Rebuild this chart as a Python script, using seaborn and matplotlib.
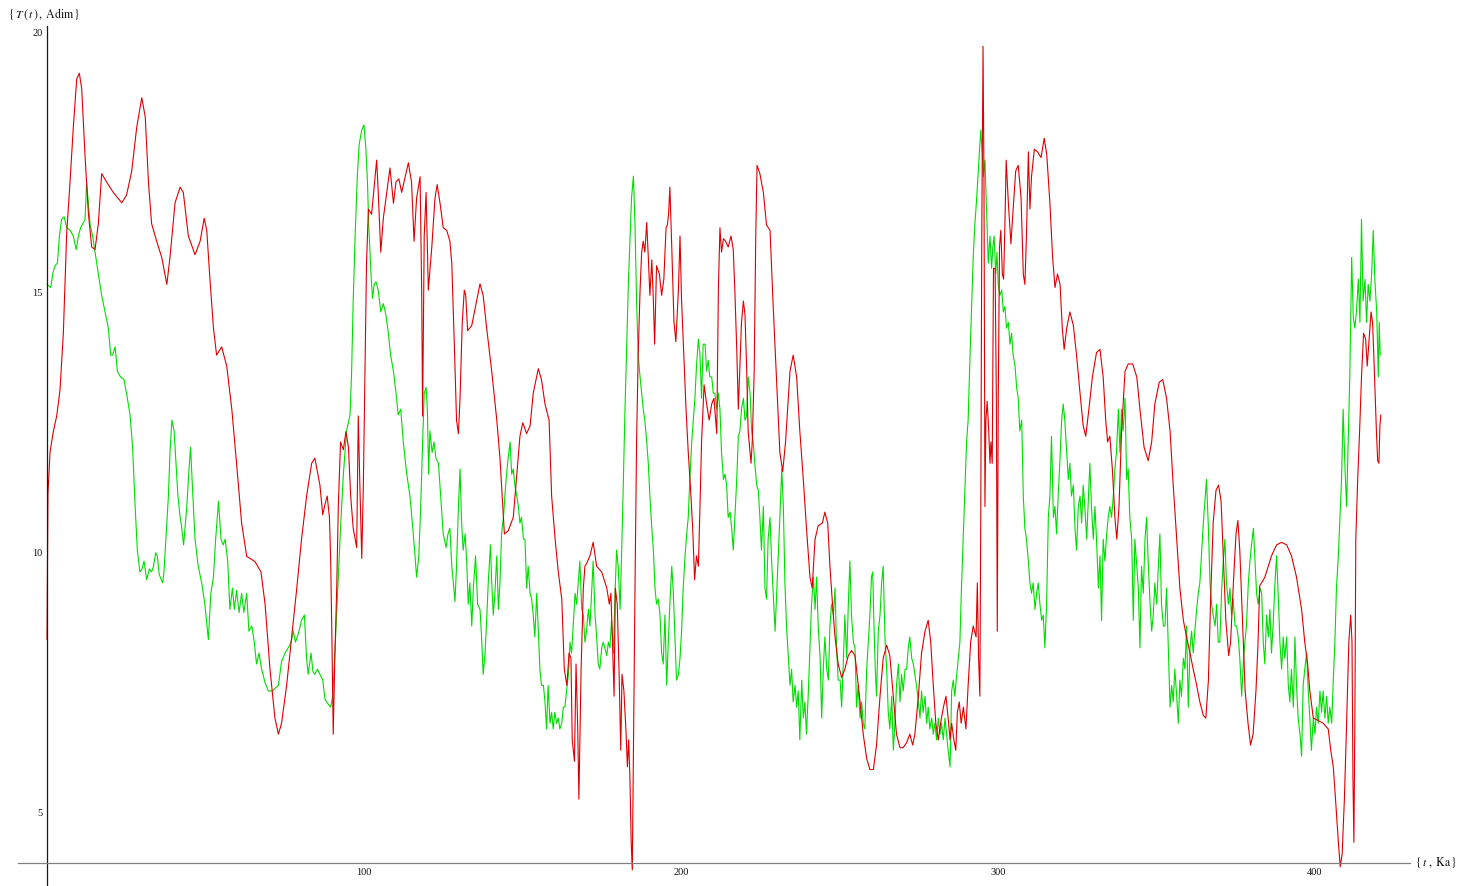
import matplotlib
matplotlib.use("Agg")
import matplotlib.pyplot as plt
from matplotlib.ticker import FixedLocator
import pandas as pd
import seaborn as sns

# ---------------------------------------------------------------
# T(t) (adimensional) versus time t (ka); (t, T) pairs by segment
# ---------------------------------------------------------------
red_0_42 = [
    (0, 8.3), (0.3, 11.1), (0.95, 11.9), (2.0, 12.3), (3.06, 12.6), (4.1, 13.1),
    (5.16, 14.2), (6.2, 16.1), (7.26, 17.1), (8.3, 18.15), (9.37, 19.08), (10.2, 19.19),
    (10.94, 18.9), (12.0, 17.6), (13.05, 16.5), (14.1, 15.85), (15.15, 15.8), (16.2, 16.3),
    (17.25, 17.26), (18.8, 17.1), (20.9, 16.9), (23.6, 16.7), (25.1, 16.85), (26.7, 17.3),
    (28.3, 18.15), (29.9, 18.72), (31.0, 18.35), (32.0, 17.1), (33.0, 16.3), (34.6, 15.96),
    (36.2, 15.65), (37.8, 15.13), (38.8, 15.65), (40.4, 16.7), (42.0, 17.0),
]
red_43_85 = [
    (43.0, 16.9), (44.6, 16.06), (46.7, 15.7), (48.3, 15.96), (49.6, 16.4), (50.4, 16.17),
    (51.4, 15.23), (52.5, 14.3), (53.5, 13.77), (55.1, 13.93), (56.7, 13.56), (58.3, 12.73),
    (59.8, 11.69), (61.4, 10.54), (63.0, 9.9), (65.6, 9.8), (67.5, 9.6), (68.8, 8.98),
    (70.35, 7.73), (71.9, 6.79), (73.0, 6.48), (74.0, 6.69), (75.6, 7.42), (77.2, 8.35),
    (78.8, 9.29), (80.3, 10.23), (81.9, 11.06), (83.5, 11.69), (84.5, 11.79),
]
red_86_127 = [
    (86.1, 11.27), (87.0, 10.7), (87.7, 10.9), (88.4, 11.06), (89.1, 10.65), (89.5, 9.81),
    (89.9, 8.25), (90.3, 6.48), (90.8, 7.94), (91.4, 9.29), (91.9, 10.86), (92.6, 12.1),
    (93.5, 11.95), (94.3, 12.3), (95.1, 12.0), (95.8, 11.06), (96.6, 10.44), (97.7, 10.07),
    (98.2, 12.6), (98.7, 11.27), (99.3, 9.86), (99.8, 11.27), (100.3, 13.46), (100.8, 15.54),
    (101.4, 16.58), (102.4, 16.48), (103.5, 17.2), (104.0, 17.52), (104.5, 16.9), (105.3, 15.75),
    (106.1, 16.4), (107.2, 16.9), (108.2, 17.37), (109.3, 16.69), (110.1, 17.1), (111.0, 17.16),
    (111.9, 16.9), (113.0, 17.2), (114.0, 17.47), (115.0, 17.1), (115.8, 15.96), (116.6, 16.79),
    (117.7, 17.2), (118.2, 15.02), (118.5, 12.6), (119.0, 16.06), (119.6, 16.9), (120.3, 15.02),
    (121.4, 15.85), (122.4, 16.79), (123.1, 17.05), (124.0, 16.69), (125.0, 16.22), (126.1, 16.17),
    (127.1, 15.96),
]
red_128_170 = [
    (127.7, 15.54), (128.5, 13.98), (129.2, 12.52), (129.8, 12.26), (130.3, 12.94), (131.0, 14.4),
    (131.65, 15.02), (132.1, 14.92), (132.7, 14.24), (134.0, 14.34), (135.2, 14.71), (136.6, 15.14),
    (137.6, 14.92), (138.7, 14.29), (140.3, 13.46), (141.9, 12.52), (142.9, 11.79), (143.6, 11.06),
    (144.3, 10.33), (145.5, 10.39), (147.1, 10.65), (148.2, 11.48), (149.2, 12.21), (150.1, 12.47),
    (151.3, 12.26), (152.4, 12.41), (153.4, 13.04), (155.0, 13.51), (156.0, 13.3), (157.1, 12.83),
    (158.4, 12.52), (159.2, 11.06), (160.3, 10.23), (161.3, 9.6), (162.4, 9.08), (163.2, 7.73),
    (164.0, 7.42), (164.7, 8.04), (165.3, 7.94), (165.7, 6.37), (166.4, 5.96), (166.9, 7.83),
    (167.4, 6.69), (167.8, 5.23), (168.5, 7.73), (169.2, 9.29), (169.7, 9.71),
]
red_170_211 = [
    (170.2, 9.76), (171.3, 9.91), (172.3, 10.17), (173.4, 9.71), (175.0, 9.6), (176.6, 9.29),
    (177.4, 8.98), (177.9, 9.19), (178.4, 8.25), (178.9, 7.21), (179.3, 9.29), (179.9, 8.98),
    (180.5, 7.63), (181.0, 6.17), (181.4, 7.63), (182.0, 7.31), (182.7, 6.48), (183.1, 5.85),
    (183.5, 6.37), (183.9, 5.64), (184.3, 4.4), (184.65, 3.87), (185.0, 6.17), (185.5, 9.29),
    (186.0, 12.1), (186.5, 13.77), (187.1, 15.02), (187.6, 15.75), (188.1, 15.96), (188.6, 15.75),
    (189.2, 16.32), (189.7, 15.65), (190.2, 14.92), (190.8, 15.6), (191.3, 14.81), (191.7, 13.98),
    (192.3, 15.49), (193.2, 15.33), (193.9, 14.92), (194.6, 15.23), (195.3, 16.22), (195.7, 16.27),
    (196.1, 16.48), (196.5, 17.0), (197.1, 15.85), (197.8, 14.4), (198.4, 14.03), (199.2, 15.02),
    (199.7, 16.06), (200.2, 14.81), (200.9, 13.77), (201.6, 12.73), (202.3, 11.9), (203.05, 11.17),
    (203.7, 10.44), (204.3, 9.45), (204.9, 9.91), (205.5, 9.71), (206.0, 10.86), (206.5, 12.1),
    (207.3, 13.2), (208.1, 12.83), (208.9, 12.52), (209.7, 12.83), (210.4, 12.94), (211.3, 12.26),
]
red_212_255 = [
    (211.8, 15.02), (212.3, 16.22), (212.8, 15.75), (213.4, 16.01), (214.1, 15.96), (214.9, 15.85),
    (215.8, 16.06), (216.5, 15.8), (217.0, 15.02), (217.6, 13.88), (218.1, 12.73), (218.6, 13.56),
    (219.1, 14.4), (219.7, 14.81), (220.2, 14.55), (220.7, 13.56), (221.2, 12.31), (222.1, 11.69),
    (222.5, 12.1), (223.1, 13.46), (223.6, 16.06), (224.0, 17.42), (224.9, 17.26), (226.0, 16.9),
    (227.0, 16.27), (228.1, 16.17), (229.1, 14.71), (230.2, 13.25), (231.2, 11.9), (232.1, 11.53),
    (233.0, 12.1), (234.4, 13.46), (235.4, 13.77), (236.5, 13.35), (237.5, 12.31), (238.6, 11.38),
    (239.6, 10.44), (240.7, 9.5), (241.4, 9.29), (242.3, 10.23), (243.3, 10.49), (244.6, 10.54),
    (245.4, 10.75), (246.3, 10.54), (247.0, 9.71), (247.7, 9.08), (248.6, 8.35), (249.6, 7.83),
    (250.7, 7.57), (251.7, 7.73), (252.8, 7.99), (253.8, 8.09), (254.9, 7.99),
]
red_255_298 = [
    (255.4, 7.73), (256.5, 7.1), (257.5, 6.48), (258.6, 6.01), (259.6, 5.8), (260.7, 5.8),
    (261.7, 6.27), (262.8, 7.21), (263.8, 7.94), (264.9, 8.19), (265.9, 7.99), (267.0, 7.21),
    (268.0, 6.48), (269.1, 6.22), (270.1, 6.22), (271.2, 6.32), (272.2, 6.48), (273.1, 6.27),
    (273.8, 6.48), (274.9, 7.21), (275.9, 8.04), (277.0, 8.46), (278.0, 8.67), (278.8, 8.25),
    (279.6, 7.42), (280.4, 6.69), (281.2, 6.37), (281.9, 6.69), (282.8, 7.0), (283.6, 7.21),
    (284.3, 6.79), (284.9, 6.37), (285.4, 6.69), (286.1, 6.37), (286.7, 6.17), (287.2, 6.9),
    (287.8, 7.1), (288.4, 6.69), (289.1, 7.0), (289.9, 6.58), (290.6, 7.42), (291.4, 8.25),
    (292.2, 8.56), (293.1, 8.35), (293.5, 9.39), (293.9, 7.94), (294.3, 7.21), (294.6, 10.86),
    (294.9, 16.06), (295.3, 19.71), (295.6, 17.1), (295.9, 10.86), (296.2, 12.52), (296.6, 12.88),
    (297.1, 12.31), (297.5, 11.69),
]
red_298_340 = [
    (297.8, 12.1), (298.2, 11.69), (298.6, 15.44), (299.1, 15.44), (299.5, 12.94), (299.8, 8.46),
    (300.1, 12.94), (300.5, 15.85), (300.9, 16.17), (301.4, 15.33), (301.8, 15.23), (302.2, 16.27),
    (302.6, 17.52), (303.3, 16.69), (304.1, 15.91), (304.8, 16.58), (305.6, 17.31), (306.4, 17.42),
    (307.3, 16.79), (308.0, 15.33), (308.5, 15.13), (309.0, 16.06), (309.6, 17.68), (310.1, 16.58),
    (310.6, 17.21), (311.5, 17.73), (312.5, 17.68), (313.6, 17.57), (314.6, 17.94), (315.4, 17.63),
    (316.4, 16.69), (317.25, 15.65), (318.0, 15.07), (318.8, 15.33), (319.6, 15.13), (320.3, 14.29),
    (320.9, 13.88), (321.7, 14.29), (322.7, 14.6), (323.8, 14.34), (324.8, 13.77), (325.9, 13.04),
    (326.9, 12.41), (327.7, 12.21), (328.7, 12.73), (329.8, 13.35), (331.1, 13.82), (332.2, 13.88),
    (333.2, 13.35), (334.0, 12.52), (334.6, 12.1), (335.3, 12.21), (336.1, 11.58), (336.9, 10.65),
    (337.5, 10.23), (338.2, 10.86), (339.0, 12.31), (340.1, 13.46),
]
red_341_382 = [
    (341.1, 13.6), (342.5, 13.6), (343.8, 13.35), (344.8, 12.73), (346.1, 12.0), (347.4, 11.74),
    (348.5, 12.1), (349.5, 12.83), (350.9, 13.25), (352.0, 13.3), (353.2, 12.94), (354.3, 12.31),
    (355.3, 11.27), (356.4, 10.23), (357.4, 9.29), (358.5, 8.67), (359.5, 8.35), (360.6, 8.04),
    (361.6, 7.73), (362.7, 7.42), (363.7, 7.1), (364.8, 6.84), (365.6, 6.79), (366.4, 7.52),
    (367.1, 9.08), (367.9, 10.54), (368.8, 11.17), (369.6, 11.27), (370.4, 10.96), (371.1, 9.91),
    (371.9, 8.67), (372.8, 7.99), (373.4, 8.25), (374.2, 9.29), (375.1, 10.33), (375.7, 10.59),
    (376.3, 10.02), (377.2, 8.56), (378.0, 7.31), (378.9, 6.69), (379.7, 6.27), (380.5, 6.48),
    (381.4, 7.31), (382.0, 8.14),
]
red_383_421 = [
    (382.6, 9.34), (383.2, 9.39), (384.2, 9.5), (385.3, 9.71), (386.3, 9.91), (387.9, 10.12),
    (389.5, 10.17), (391.1, 10.12), (392.6, 9.91), (394.2, 9.5), (395.8, 8.88), (396.8, 8.25),
    (397.7, 7.83), (398.4, 7.31), (399.5, 6.79), (401.1, 6.74), (402.6, 6.69), (404.2, 6.58),
    (405.0, 6.17), (405.8, 5.85), (406.5, 5.23), (407.4, 4.4), (408.0, 3.93), (408.6, 4.18),
    (409.3, 5.23), (410.0, 6.69), (410.7, 8.25), (411.3, 8.77), (411.7, 8.25), (412.0, 5.64),
    (412.3, 4.4), (412.6, 6.69), (412.9, 10.23), (413.5, 11.38), (414.1, 12.31), (414.7, 13.35),
    (415.35, 14.19), (416.0, 14.08), (416.5, 13.56), (417.0, 13.98), (417.7, 14.6), (418.2, 14.4),
    (418.7, 13.56), (419.4, 12.31), (419.8, 11.74), (420.2, 11.69), (420.5, 12.41), (420.8, 12.62),
]

green_0_42 = [
    (0, 15.13), (1.2, 15.07), (1.8, 15.33), (2.5, 15.49), (3.3, 15.54), (3.9, 16.06),
    (4.6, 16.38), (5.4, 16.43), (6.2, 16.22), (7.3, 16.17), (8.3, 16.06), (9.2, 15.8),
    (9.9, 16.06), (10.6, 16.22), (11.5, 16.32), (12.0, 16.38), (12.5, 17.1), (13.05, 16.69),
    (13.6, 16.27), (14.4, 16.06), (15.15, 15.75), (16.2, 15.33), (17.25, 14.92), (18.3, 14.6),
    (19.35, 14.29), (20.1, 13.77), (20.7, 13.77), (21.5, 13.93), (22.2, 13.46), (23.2, 13.35),
    (24.3, 13.3), (25.35, 12.94), (26.2, 12.62), (27.0, 12.0), (27.8, 10.86), (28.5, 10.02),
    (29.3, 9.6), (30.0, 9.66), (30.6, 9.81), (31.45, 9.45), (32.3, 9.66), (33.0, 9.6),
    (33.55, 9.7), (34.3, 9.97), (34.8, 9.91), (35.4, 9.55), (36.5, 9.39), (36.9, 9.6),
    (37.5, 10.23), (38.3, 11.06), (38.8, 11.9), (39.4, 12.52), (40.1, 12.31), (40.7, 11.69),
    (41.3, 11.06), (42.0, 10.65),
]
green_42_85 = [
    (42.3, 10.54), (43.1, 10.12), (44.1, 10.86), (44.8, 11.58), (45.3, 12.0), (45.85, 11.27),
    (46.7, 10.23), (47.7, 9.71), (48.8, 9.39), (49.8, 8.98), (50.9, 8.3), (51.7, 9.19),
    (52.5, 9.5), (53.2, 10.23), (54.1, 10.96), (54.9, 10.23), (55.6, 10.12), (56.2, 10.23),
    (57.0, 9.81), (57.7, 8.88), (58.5, 9.29), (59.1, 8.88), (59.8, 9.24), (60.6, 8.82),
    (61.4, 9.19), (62.1, 8.82), (63.0, 9.19), (63.7, 8.46), (64.6, 8.56), (65.4, 8.25),
    (66.1, 7.83), (66.9, 8.04), (67.7, 7.73), (68.8, 7.47), (69.8, 7.31), (71.1, 7.31),
    (71.9, 7.36), (73.0, 7.42), (74.0, 7.88), (75.1, 8.04), (76.1, 8.14), (77.0, 8.25),
    (77.7, 8.46), (78.4, 8.25), (79.5, 8.46), (80.3, 8.67), (81.2, 8.77), (81.9, 7.94),
    (82.4, 7.63), (83.3, 8.04), (83.9, 7.68), (84.5, 7.63),
]
green_85_127 = [
    (85.3, 7.73), (86.1, 7.63), (87.0, 7.52), (87.7, 7.15), (88.8, 7.05), (89.5, 7.0),
    (90.1, 7.21), (90.5, 7.63), (91.2, 8.56), (91.9, 9.5), (92.6, 10.44), (93.5, 11.48),
    (94.5, 12.31), (95.6, 12.62), (96.1, 13.46), (96.6, 14.81), (97.2, 16.06), (97.9, 17.21),
    (98.5, 17.83), (99.3, 18.1), (100.0, 18.2), (100.6, 17.73), (101.1, 17.1), (101.5, 16.27),
    (101.9, 15.75), (102.3, 15.23), (102.7, 14.86), (103.2, 15.13), (103.8, 15.18), (104.5, 15.02),
    (105.3, 14.6), (106.1, 14.76), (106.9, 14.55), (107.7, 14.19), (108.4, 13.77), (109.3, 13.46),
    (110.1, 13.04), (110.8, 12.62), (111.6, 12.73), (112.4, 12.1), (113.5, 11.48), (114.5, 11.06),
    (115.4, 10.44), (116.1, 9.91), (116.6, 9.5), (117.3, 9.91), (117.9, 10.86), (118.5, 12.1),
    (119.0, 13.04), (119.6, 13.15), (120.0, 12.73), (120.4, 11.48), (120.8, 12.31), (121.5, 11.9),
    (122.1, 12.1), (122.7, 11.79), (123.5, 11.69), (124.2, 11.06), (125.0, 10.33), (125.9, 10.07),
    (126.5, 10.33), (127.1, 10.44),
]
green_128_170 = [
    (127.7, 9.71), (128.2, 9.39), (128.7, 9.03), (129.2, 9.71), (129.8, 10.86), (130.3, 11.58),
    (130.8, 10.54), (131.3, 10.02), (131.9, 10.33), (132.4, 9.81), (132.9, 8.98), (133.4, 9.39),
    (134.0, 8.56), (134.5, 9.29), (135.2, 9.91), (135.85, 8.98), (136.6, 8.88), (137.1, 8.35),
    (137.6, 7.63), (138.2, 8.04), (138.7, 8.67), (139.2, 9.39), (139.9, 10.12), (140.3, 9.39),
    (140.8, 8.77), (141.3, 9.19), (141.9, 9.91), (142.4, 8.88), (142.9, 9.39), (143.4, 10.33),
    (144.0, 10.65), (144.7, 11.27), (145.3, 11.69), (146.1, 12.1), (146.6, 11.48), (147.1, 11.58),
    (147.6, 11.27), (148.2, 11.06), (148.7, 10.86), (149.2, 10.54), (149.7, 10.65), (150.3, 10.23),
    (150.8, 10.23), (151.3, 9.29), (151.8, 9.71), (152.4, 9.19), (152.9, 9.08), (153.4, 8.77),
    (153.9, 8.35), (154.5, 9.19), (155.0, 8.46), (155.5, 7.73), (156.0, 7.42), (156.6, 7.42),
    (157.1, 7.1), (157.6, 6.58), (158.1, 7.42), (158.7, 6.69), (159.2, 6.9), (159.7, 6.58),
    (160.2, 6.9), (160.8, 6.69), (161.3, 6.79), (161.8, 6.58), (162.4, 6.69), (162.9, 7.0),
    (163.4, 7.0), (163.9, 7.31), (164.5, 7.63), (165.0, 8.25), (165.5, 8.04), (166.0, 8.56),
    (166.6, 9.19), (167.1, 8.98), (167.6, 9.39), (168.1, 9.81), (168.7, 8.88), (169.2, 8.77),
    (169.7, 8.25),
]
green_170_212 = [
    (170.2, 8.46), (170.8, 8.88), (171.3, 8.56), (171.8, 9.19), (172.3, 9.81), (172.9, 8.77),
    (173.4, 8.35), (173.9, 7.83), (174.4, 7.73), (175.0, 8.14), (175.5, 8.25), (176.0, 8.14),
    (176.6, 7.99), (177.1, 8.25), (177.6, 8.14), (178.1, 8.67), (178.7, 8.04), (179.2, 9.19),
    (179.7, 10.02), (180.2, 9.71), (180.8, 8.88), (181.3, 10.02), (181.8, 11.27), (182.3, 12.62),
    (182.9, 13.98), (183.4, 15.13), (183.9, 15.96), (184.4, 16.79), (185.0, 17.21), (185.5, 16.27),
    (186.0, 14.81), (186.5, 13.77), (187.1, 13.35), (187.6, 13.04), (188.1, 12.73), (188.6, 12.52),
    (189.2, 12.1), (189.7, 11.69), (190.2, 11.06), (190.8, 10.44), (191.3, 10.02), (191.8, 9.29),
    (192.3, 8.98), (192.85, 9.08), (193.4, 8.77), (193.9, 8.04), (194.4, 7.83), (194.95, 8.77),
    (195.5, 7.42), (196.0, 8.25), (196.5, 8.98), (197.1, 9.71), (197.6, 9.19), (198.1, 8.35),
    (198.6, 7.52), (199.2, 7.63), (199.7, 7.94), (200.2, 8.46), (200.7, 9.29), (201.3, 9.91),
    (201.8, 10.33), (202.3, 10.65), (202.8, 11.38), (203.4, 12.1), (203.9, 12.52), (204.4, 12.94),
    (204.9, 13.56), (205.5, 14.08), (206.0, 13.77), (206.5, 12.94), (207.0, 13.98), (207.6, 13.98),
    (208.1, 13.46), (208.6, 13.67), (209.1, 13.35), (209.7, 13.35), (210.2, 13.04), (210.7, 13.04),
    (211.3, 12.73), (211.8, 13.04), (212.3, 12.73),
]
green_213_255 = [
    (212.8, 11.9), (213.4, 11.38), (213.9, 11.48), (214.4, 11.27), (214.9, 10.65), (215.5, 10.75),
    (216.0, 10.44), (216.5, 10.02), (217.0, 10.65), (217.6, 11.38), (218.1, 12.21), (218.6, 12.31),
    (219.1, 12.73), (219.7, 12.94), (220.2, 12.52), (220.7, 12.6), (221.2, 13.35), (221.8, 13.04),
    (222.3, 12.31), (222.8, 12.1), (223.3, 11.69), (223.9, 11.27), (224.4, 11.17), (224.9, 10.65),
    (225.4, 10.02), (226.0, 10.86), (226.5, 9.29), (227.0, 9.08), (227.5, 10.23), (228.1, 10.65),
    (228.6, 9.81), (229.1, 9.19), (229.7, 8.46), (230.2, 9.19), (230.7, 9.91), (231.2, 10.65),
    (231.8, 11.58), (232.3, 10.86), (232.8, 9.39), (233.3, 8.56), (233.9, 7.94), (234.4, 7.42),
    (234.9, 7.73), (235.4, 7.1), (236.0, 7.42), (236.5, 7.0), (237.0, 7.31), (237.5, 6.37),
    (238.1, 7.52), (238.6, 6.79), (239.1, 7.1), (239.6, 6.48), (240.2, 7.31), (240.7, 8.14),
    (241.2, 8.98), (241.8, 9.5), (242.3, 8.88), (242.8, 9.5), (243.3, 8.56), (243.9, 7.94),
    (244.4, 6.79), (244.9, 7.73), (245.4, 8.35), (246.0, 7.73), (246.5, 7.52), (247.0, 8.56),
    (247.5, 8.98), (248.1, 8.77), (248.6, 9.29), (249.1, 8.14), (249.6, 7.52), (250.2, 7.52),
    (250.7, 7.0), (251.2, 7.83), (251.7, 8.77), (252.3, 7.94), (252.8, 8.98), (253.3, 9.81),
    (253.8, 8.77), (254.4, 8.25), (254.9, 8.14),
]
green_255_298 = [
    (255.4, 7.0), (255.9, 7.42), (256.5, 6.79), (257.0, 7.1), (257.5, 6.69), (258.0, 6.58),
    (258.6, 7.73), (259.1, 8.25), (259.6, 8.77), (260.1, 9.5), (260.5, 9.6), (260.9, 8.56),
    (261.3, 7.73), (261.7, 7.21), (262.25, 8.46), (262.8, 8.77), (263.3, 9.39), (263.8, 9.71),
    (264.4, 8.25), (264.9, 7.73), (265.4, 6.9), (265.9, 6.58), (266.5, 7.21), (267.0, 6.17),
    (267.5, 6.69), (268.0, 7.42), (268.6, 7.83), (269.1, 7.1), (269.6, 7.63), (270.1, 7.31),
    (270.7, 7.73), (271.2, 7.73), (271.7, 8.14), (272.2, 8.35), (272.8, 7.94), (273.3, 7.83),
    (273.8, 7.63), (274.3, 7.42), (274.9, 7.1), (275.4, 6.79), (275.9, 7.31), (276.4, 6.9),
    (277.0, 7.21), (277.5, 6.69), (278.0, 7.0), (278.5, 6.58), (279.1, 6.79), (279.6, 6.48),
    (280.1, 6.69), (280.65, 6.37), (281.2, 6.79), (281.7, 6.48), (282.2, 6.69), (282.75, 6.37),
    (283.3, 6.79), (283.8, 6.48), (284.3, 6.17), (284.9, 5.85), (285.4, 7.31), (285.9, 7.52),
    (286.4, 7.21), (287.0, 7.63), (287.5, 7.94), (288.0, 8.25), (288.5, 9.29), (289.1, 10.33),
    (289.6, 11.17), (290.1, 12.1), (290.6, 12.52), (291.2, 13.77), (291.7, 14.71), (292.2, 15.65),
    (292.7, 16.27), (293.3, 16.79), (293.8, 17.31), (294.3, 17.83), (294.6, 18.1), (294.95, 17.73),
    (295.4, 17.21), (295.9, 17.52), (296.4, 16.58), (296.95, 15.54), (297.5, 16.06),
]
green_298_340 = [
    (298.0, 15.44), (298.4, 15.85), (298.8, 16.06), (299.3, 15.33), (299.7, 15.75), (300.1, 15.13),
    (300.6, 14.92), (301.2, 15.02), (301.7, 14.6), (302.2, 14.71), (302.7, 14.29), (303.3, 14.4),
    (303.8, 13.98), (304.3, 14.19), (304.8, 13.77), (305.4, 13.56), (305.9, 13.15), (306.4, 12.94),
    (306.9, 12.31), (307.5, 12.52), (308.0, 11.06), (308.5, 10.44), (309.0, 10.23), (309.6, 9.81),
    (310.1, 9.39), (310.6, 9.19), (311.1, 9.39), (311.7, 8.88), (312.2, 9.19), (312.7, 9.39),
    (313.25, 8.98), (313.8, 8.67), (314.3, 8.77), (314.8, 8.14), (315.35, 8.98), (315.9, 10.65),
    (316.4, 11.06), (316.9, 12.21), (317.5, 10.65), (318.0, 10.86), (318.5, 10.33), (319.0, 11.06),
    (319.6, 11.79), (320.1, 12.52), (320.6, 12.83), (321.1, 12.52), (321.7, 11.9), (322.2, 11.38),
    (322.7, 11.69), (323.2, 11.06), (323.8, 11.27), (324.3, 10.44), (324.8, 10.02), (325.35, 10.86),
    (325.9, 11.06), (326.4, 10.54), (326.9, 11.27), (327.4, 10.86), (328.0, 10.23), (328.5, 10.96),
    (329.0, 11.69), (329.5, 10.86), (330.1, 10.23), (330.6, 10.86), (331.1, 10.23), (331.7, 9.29),
    (332.2, 9.91), (332.7, 8.67), (333.2, 10.23), (333.75, 9.81), (334.3, 10.33), (334.8, 10.65),
    (335.3, 10.86), (335.85, 10.65), (336.4, 11.06), (336.9, 11.58), (337.4, 11.9), (338.0, 12.73),
    (338.5, 11.9), (339.0, 12.73), (339.5, 12.31), (340.1, 12.94),
]
green_340_383 = [
    (340.6, 11.38), (341.1, 11.58), (341.6, 10.65), (342.2, 10.23), (342.7, 8.67), (343.2, 10.23),
    (343.7, 9.81), (344.3, 9.29), (344.8, 8.14), (345.3, 9.71), (345.85, 9.19), (346.4, 10.23),
    (346.9, 10.65), (347.4, 9.81), (348.0, 8.98), (348.5, 8.46), (349.0, 8.77), (349.5, 9.39),
    (350.1, 8.98), (350.6, 9.71), (351.1, 10.33), (351.6, 8.98), (352.2, 8.56), (352.7, 8.56),
    (353.2, 9.29), (353.7, 8.25), (354.3, 7.0), (354.8, 7.42), (355.3, 7.1), (355.8, 7.73),
    (356.4, 7.21), (356.9, 6.69), (357.4, 7.52), (357.9, 7.21), (358.5, 7.94), (359.0, 7.73),
    (359.5, 8.56), (360.05, 7.0), (360.6, 8.14), (361.1, 8.46), (361.6, 8.04), (362.1, 8.46),
    (362.7, 8.88), (363.2, 9.19), (363.7, 9.39), (364.3, 10.02), (364.8, 10.54), (365.3, 10.96),
    (365.8, 11.38), (366.4, 10.44), (366.9, 9.39), (367.4, 8.98), (367.9, 8.77), (368.5, 8.56),
    (369.0, 8.98), (369.5, 8.25), (370.0, 8.25), (370.6, 9.29), (371.1, 9.81), (371.6, 10.23),
    (372.1, 9.39), (372.7, 8.98), (373.2, 9.29), (373.7, 8.77), (374.2, 9.08), (374.8, 8.56),
    (375.3, 8.56), (375.8, 8.35), (376.3, 7.94), (376.9, 7.21), (377.4, 7.83), (377.9, 8.25),
    (378.4, 8.56), (379.0, 9.39), (379.5, 9.81), (380.0, 10.12), (380.6, 10.44), (381.1, 9.81),
    (381.6, 9.19), (382.1, 8.98), (382.7, 9.29),
]
green_383_421 = [
    (383.2, 9.19), (383.7, 8.25), (384.2, 7.83), (384.75, 8.77), (385.3, 8.35), (385.8, 8.88),
    (386.3, 8.04), (386.8, 8.56), (387.4, 9.39), (387.9, 9.91), (388.4, 9.19), (388.96, 8.25),
    (389.5, 7.73), (390.0, 8.35), (390.5, 7.94), (391.1, 8.35), (391.6, 7.42), (392.1, 7.1),
    (392.6, 7.73), (393.2, 7.0), (393.7, 8.35), (394.2, 7.42), (394.7, 6.79), (395.3, 6.48),
    (395.8, 6.06), (396.3, 7.42), (396.8, 7.73), (397.4, 8.04), (397.9, 7.31), (398.4, 6.79),
    (398.9, 6.17), (399.5, 6.79), (400.0, 6.48), (400.5, 7.0), (401.05, 6.69), (401.6, 7.31),
    (402.1, 6.9), (402.6, 7.31), (403.15, 6.79), (403.7, 7.21), (404.2, 6.69), (404.7, 7.0),
    (405.3, 6.69), (405.8, 7.52), (406.3, 8.25), (406.8, 9.29), (407.4, 9.91), (407.9, 10.65),
    (408.4, 11.38), (408.9, 12.73), (409.5, 11.58), (410.0, 10.86), (410.5, 12.1), (411.0, 13.35),
    (411.6, 15.65), (412.1, 14.5), (412.6, 14.29), (413.1, 14.6), (413.7, 15.23), (414.2, 14.4),
    (414.7, 16.38), (415.2, 14.81), (415.8, 15.23), (416.3, 14.4), (416.8, 15.13), (417.35, 14.81),
    (417.9, 15.33), (418.4, 16.17), (418.9, 15.23), (419.5, 14.6), (420.0, 13.35), (420.3, 14.4),
    (420.6, 13.77),
]

red_segments = [red_0_42, red_43_85, red_86_127, red_128_170, red_170_211,
                red_212_255, red_255_298, red_298_340, red_341_382, red_383_421]
green_segments = [green_0_42, green_42_85, green_85_127, green_128_170, green_170_212,
                  green_213_255, green_255_298, green_298_340, green_340_383, green_383_421]

red_df = pd.DataFrame([p for seg in red_segments for p in seg], columns=["t", "T"])
green_df = pd.DataFrame([p for seg in green_segments for p in seg], columns=["t", "T"])

# ---------------------------------------------------------------
# figure
# ---------------------------------------------------------------
sns.set_theme(style="white")
plt.rcParams["font.family"] = ["Liberation Serif", "DejaVu Serif"]
plt.rcParams["mathtext.fontset"] = "stix"

W, H = 1461, 887
fig = plt.figure(figsize=(W / 100, H / 100), dpi=100)
fig.patch.set_facecolor("white")
ax = fig.add_axes([18 / W, 0.0, 1392 / W, 860 / H])
ax.set_facecolor("white")

sns.lineplot(data=green_df, x="t", y="T", ax=ax, color="#00dd00", linewidth=0.8,
             estimator=None, sort=False)
sns.lineplot(data=red_df, x="t", y="T", ax=ax, color="#dd0000", linewidth=0.8,
             estimator=None, sort=False)

ax.set_xlim(-9.15, 430)
ax.set_ylim(3.56, 20.1)
ax.set_xlabel("")
ax.set_ylabel("")

# axes crossing at (0, 4)
for side in ("top", "right"):
    ax.spines[side].set_visible(False)
ax.spines["left"].set_position(("data", 0))
ax.spines["bottom"].set_position(("data", 4))
ax.spines["left"].set_color("#1a1a1a")
ax.spines["bottom"].set_color("#808080")
ax.spines["left"].set_linewidth(0.9)
ax.spines["bottom"].set_linewidth(0.9)

ax.xaxis.set_major_locator(FixedLocator([100, 200, 300, 400]))
ax.xaxis.set_minor_locator(FixedLocator([v for v in range(20, 430, 20) if v % 100]))
ax.yaxis.set_major_locator(FixedLocator([5, 10, 15, 20]))
ax.yaxis.set_minor_locator(FixedLocator([v for v in range(4, 21) if v % 5]))

ax.tick_params(axis="both", which="major", direction="in", length=4, width=0.7,
               colors="#222222", labelsize=7.5, labelcolor="#111111", pad=3)
ax.tick_params(axis="both", which="minor", direction="in", length=2.2, width=0.6,
               colors="#444444")
ax.grid(False)

# axis captions
fig.text(8 / W, 1 - 14 / H, r"$\{\,T\,(\,t\,)\,,\ \mathrm{Adim}\,\}$", fontsize=8.5,
         ha="left", va="center", color="#111111")
fig.text(1415 / W, 1 - 863 / H, r"$\{\,t\ ,\ \mathrm{Ka}\,\}$", fontsize=8.5,
         ha="left", va="center", color="#111111")

fig.savefig("out.png", dpi=100, facecolor="white")
